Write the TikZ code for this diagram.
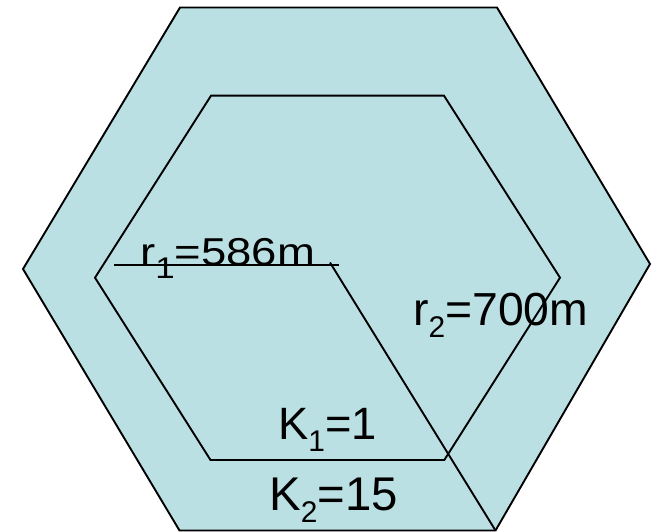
\documentclass[tikz,border=0pt]{standalone}
\usepackage{fontspec}
\setmainfont{Liberation Sans}
\usepackage{graphicx}
\definecolor{cellfill}{HTML}{BBE0E3}
\newcommand{\subidx}[1]{\raisebox{-12.5bp}{\fontsize{30}{30}\selectfont #1}}

\begin{document}
\begin{tikzpicture}[
  x=1bp,
  y=-1bp,
  line join=miter,
  cell/.style={draw=black,line width=1.9bp},
  spoke/.style={draw=black,line width=1.9bp},
  txt/.style={inner sep=0pt,anchor=base west,font=\fontsize{46}{50}\selectfont}
]
  \useasboundingbox (0,0) rectangle (651,532);

  % Outer cell vertices (K2 ring).
  \coordinate (O1) at (180,7.5);
  \coordinate (O2) at (497,7.5);
  \coordinate (O3) at (650,264);
  \coordinate (O4) at (495.5,530.5);
  \coordinate (O5) at (179.5,530.5);
  \coordinate (O6) at (23,269);

  % Inner cell vertices (K1 cell).
  \coordinate (I1) at (211,95.7);
  \coordinate (I2) at (444,95.7);
  \coordinate (I3) at (560,277.7);
  \coordinate (I4) at (444.3,460);
  \coordinate (I5) at (210.5,460);
  \coordinate (I6) at (95,277.7);

  % Ends of the two radii.
  \coordinate (r1start) at (114,265.3);
  \coordinate (r1end) at (339,265.3);
  \coordinate (r2start) at (330,262.5);

  \path[fill=cellfill] (O1) -- (O2) -- (O3) -- (O4) -- (O5) -- (O6) -- cycle;
  \draw[cell] (O1) -- (O2) -- (O3) -- (O4) -- (O5) -- (O6) -- cycle;
  \draw[cell] (I1) -- (I2) -- (I3) -- (I4) -- (I5) -- (I6) -- cycle;

  \draw[spoke] (r1start) -- (r1end);
  \draw[spoke] (r2start) -- (O4);

  % Labels.
  \node[txt,font=\fontsize{39}{42}\selectfont] (r1) at (140,265.7) {\scalebox{1.17}[1]{r\subidx{1}=586m}};
  \node[txt,font=\fontsize{46.5}{50}\selectfont] (r2) at (413,325) {r\subidx{2}=700m};
  \node[txt,font=\fontsize{45.5}{50}\selectfont] (k1) at (278,439.3) {K\subidx{1}=1};
  \node[txt,font=\fontsize{47.5}{50}\selectfont] (k2) at (269,510) {K\subidx{2}=15};
\end{tikzpicture}
\end{document}
